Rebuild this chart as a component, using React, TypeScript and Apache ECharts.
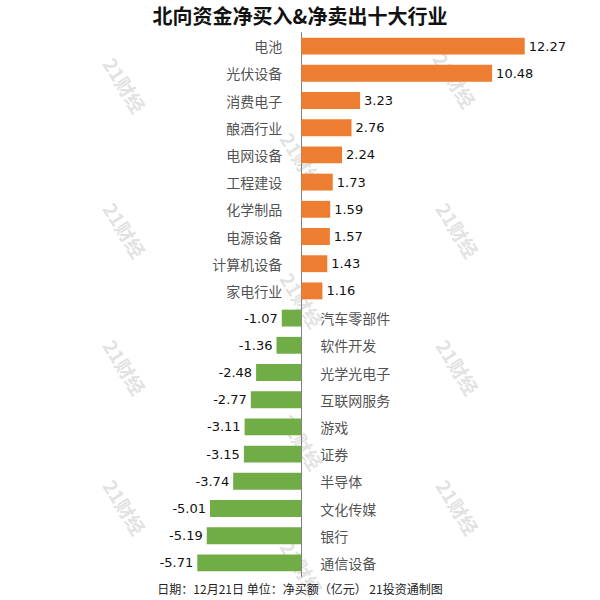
import React, { useEffect, useRef } from "react";
import * as echarts from "echarts";

const categories = [
  "电池", "光伏设备", "消费电子", "酿酒行业", "电网设备", "工程建设", "化学制品", "电源设备", "计算机设备", "家电行业",
  "汽车零部件", "软件开发", "光学光电子", "互联网服务", "游戏", "证券", "半导体", "文化传媒", "银行", "通信设备",
];
const values = [
  12.27, 10.48, 3.23, 2.76, 2.24, 1.73, 1.59, 1.57, 1.43, 1.16,
  -1.07, -1.36, -2.48, -2.77, -3.11, -3.15, -3.74, -5.01, -5.19, -5.71,
];
const titleText = "北向资金净买入&净卖出十大行业";
const footerText = "日期：12月21日 单位：净买额（亿元） 21投资通制图";
const watermarkText = "21财经";
const watermarkSpots = [
  [125, 85], [455, 80], [302, 160], [125, 230], [458, 230], [302, 300],
  [125, 367], [458, 367], [302, 442], [125, 507], [458, 507], [302, 568],
];

const FONT = "'DejaVu Sans', 'Noto Sans CJK SC', sans-serif";
const ORANGE = "#ED7D31";
const GREEN = "#70AD47";

export default function App() {
  const ref = useRef<HTMLDivElement>(null);
  useEffect(() => {
    if (!ref.current) return;
    const chart = echarts.init(ref.current, undefined, { renderer: "svg" });
    const watermarks = watermarkSpots.map(([x, y]) => ({
      type: "text",
      x,
      y,
      rotation: -Math.PI * 0.32,
      z: -10,
      silent: true,
      style: {
        text: watermarkText,
        fill: "rgba(190,190,190,0.45)",
        font: `bold 19px 'Noto Sans CJK SC', sans-serif`,
        align: "center",
        verticalAlign: "middle",
      },
    }));
    chart.setOption({
      animation: false,
      title: {
        text: titleText,
        left: "center",
        top: 0,
        textStyle: { fontSize: 20, fontWeight: "bold", color: "#111", fontFamily: "'Noto Sans CJK SC', sans-serif" },
      },
      grid: { left: 192, right: 62, top: 32.5, bottom: 23.5, containLabel: false },
      xAxis: {
        type: "value",
        min: -6,
        max: 13,
        show: false,
      },
      yAxis: {
        type: "category",
        data: categories,
        inverse: true,
        axisLine: { show: true, onZero: true, lineStyle: { color: "#808080", width: 1 } },
        axisTick: { show: false },
        axisLabel: { show: false },
        splitLine: { show: false },
      },
      graphic: [
        ...watermarks,
        {
          type: "text",
          left: "center",
          top: 582,
          style: {
            text: footerText,
            fill: "#222",
            font: `12px 'Noto Sans CJK SC', sans-serif`,
          },
        },
      ],
      series: [
        {
          type: "bar",
          barWidth: "62%",
          data: values.map((v) => ({
            value: v,
            itemStyle: { color: v >= 0 ? ORANGE : GREEN },
            label: { position: v >= 0 ? "right" : "left" },
          })),
          label: {
            show: true,
            distance: 4,
            fontSize: 13,
            fontFamily: FONT,
            color: "#111",
            formatter: (p: any) => Number(p.value).toFixed(2),
          },
          z: 2,
        },
        {
          type: "scatter",
          symbolSize: 0,
          silent: true,
          data: values.map((v, i) => ({
            value: [0, categories[i]],
            label: { position: v >= 0 ? "left" : "right" },
          })),
          label: {
            show: true,
            distance: 19,
            fontSize: 14,
            fontFamily: "'Noto Sans CJK SC', sans-serif",
            color: "#222",
            formatter: (p: any) => p.name || p.value[1],
          },
          z: 3,
        },
      ],
    });
    return () => chart.dispose();
  }, []);
  return <div ref={ref} style={{ width: 600, height: 600, position: "absolute", left: 0, top: 0 }} />;
}
